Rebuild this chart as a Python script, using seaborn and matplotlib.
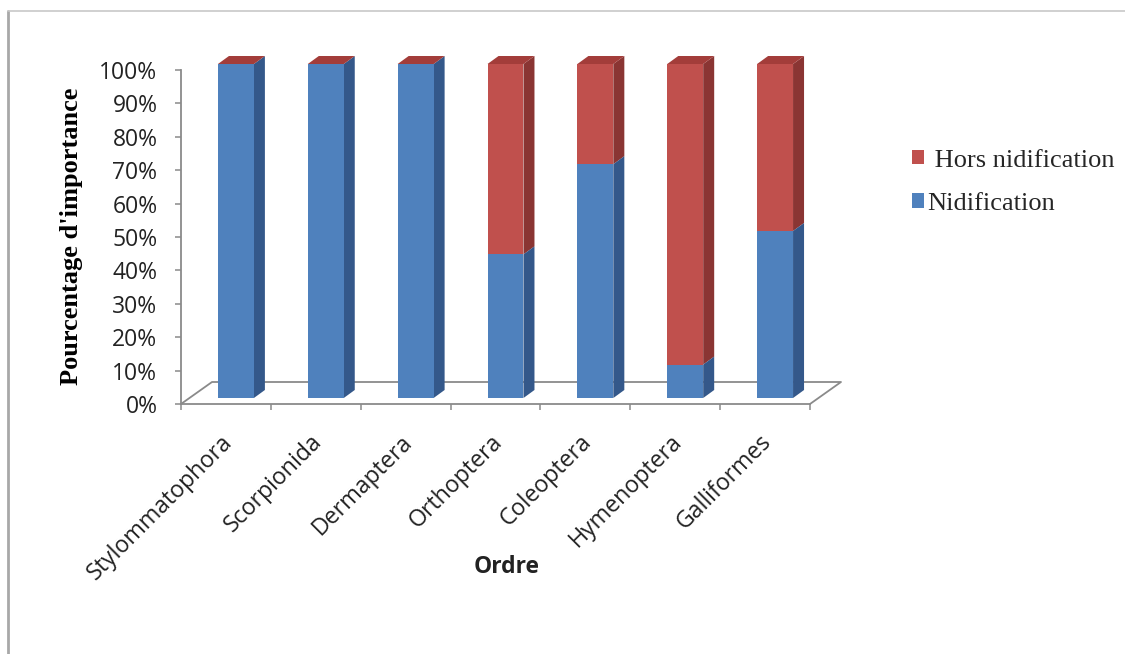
import numpy as np
import pandas as pd
import seaborn as sns
import matplotlib
matplotlib.use("Agg")
import matplotlib.pyplot as plt
from matplotlib.patches import Polygon, Rectangle
from matplotlib.lines import Line2D
import matplotlib.transforms as mtransforms

# Share of each order during nesting vs outside the nesting period (%)
ordres = ["Stylommatophora", "Scorpionida", "Dermaptera", "Orthoptera",
          "Coleoptera", "Hymenoptera", "Galliformes"]
nidification = [100, 100, 100, 43, 70, 10, 50]
hors_nidification = [0, 0, 0, 57, 30, 90, 50]
y_ticks = [0, 10, 20, 30, 40, 50, 60, 70, 80, 90, 100]
y_tick_labels = [f"{v}%" for v in y_ticks]
series_labels = [" Hors nidification", "Nidification"]

BLUE, BLUE_SIDE = "#4F81BD", "#34588A"
RED, RED_SIDE, RED_TOP = "#C0504D", "#8A3533", "#A33D3A"
AXIS_GREY = "#8A8A8A"

sns.set_theme(style="white")
plt.rcParams["font.family"] = ["Open Sans", "DejaVu Sans"]

W, H = 1125, 654
fig = plt.figure(figsize=(W / 100, H / 100), dpi=100)
ax = fig.add_axes([181 / W, 1 - 404 / H, (810 - 181) / W, (404 - 70) / H])

df = pd.DataFrame({"ordre": ordres,
                   "nid": nidification,
                   "hors": hors_nidification})
df["total"] = df["nid"] + df["hors"]

# stacked front faces: total (red) underneath, nesting share (blue) on top
sns.barplot(data=df, x="ordre", y="total", color=RED, saturation=1,
            width=0.40, ax=ax, linewidth=0)
sns.barplot(data=df, x="ordre", y="nid", color=BLUE, saturation=1,
            width=0.40, ax=ax, linewidth=0)

ax.set_xlim(-0.5, 6.5)
ax.set_ylim(0, 100)

# pixel -> data conversion for the pseudo-3D depth
ax_w_px, ax_h_px = 810 - 181, 404 - 70
px_x = 7.0 / ax_w_px
px_y = 100.0 / ax_h_px

# front faces sit a little inside the floor
shift = mtransforms.ScaledTranslation(10 / 100, 6 / 100, fig.dpi_scale_trans)
bar_tf = ax.transData + shift

n = len(ordres)
red_bars = ax.patches[:n]
blue_bars = ax.patches[n:2 * n]
ddx, ddy = 11 * px_x, 8 * px_y


def face(verts, color, z=3):
    poly = Polygon(verts, closed=True, facecolor=color, edgecolor="none",
                   transform=bar_tf, zorder=z, clip_on=False)
    ax.add_patch(poly)


for rb, bb in zip(red_bars, blue_bars):
    for p, z in ((rb, 3), (bb, 3.1)):
        p.set_transform(bar_tf)
        p.set_zorder(z)
        p.set_clip_on(False)
    top = rb.get_height()
    nid_h = bb.get_height()
    x0 = rb.get_x()
    x1 = x0 + rb.get_width()
    if top - nid_h > 0:
        face([(x1, nid_h), (x1 + ddx, nid_h + ddy),
              (x1 + ddx, top + ddy), (x1, top)], RED_SIDE)
    if nid_h > 0:
        face([(x1, 0), (x1 + ddx, ddy),
              (x1 + ddx, nid_h + ddy), (x1, nid_h)], BLUE_SIDE)
    face([(x0, top), (x0 + ddx, top + ddy),
          (x1 + ddx, top + ddy), (x1, top)], RED_TOP)

# floor outline
fdx, fdy = 31 * px_x, 22 * px_y
floor = [(-0.5, 0), (-0.5 + fdx, fdy), (6.5 + fdx, fdy), (6.5, 0)]
fx, fy = zip(*floor)
ax.add_line(Line2D(fx, fy, color=AXIS_GREY, lw=1.3, clip_on=False, zorder=2))

# axes styling
for s in ["top", "right"]:
    ax.spines[s].set_visible(False)
for s in ["left", "bottom"]:
    ax.spines[s].set_color(AXIS_GREY)
    ax.spines[s].set_linewidth(1.3)

ax.set_yticks(y_ticks)
ax.set_yticklabels(y_tick_labels, fontsize=16.5, color="#222222")
ax.tick_params(axis="y", direction="out", length=4.5, width=1.1,
               color=AXIS_GREY, pad=12.5, left=True)

ax.set_xticks(range(n))
ax.set_xticklabels(ordres, rotation=45, ha="right", va="center",
                   rotation_mode="anchor", fontsize=16.7, color="#222222")
ax.tick_params(axis="x", which="major", length=0, pad=25)
ax.set_xticks(np.arange(-0.5, n, 1.0), minor=True)
ax.tick_params(axis="x", which="minor", direction="out", length=4.5,
               width=1.1, color=AXIS_GREY, bottom=True)
nudge = mtransforms.ScaledTranslation(3 / 100, 0, fig.dpi_scale_trans)
for lab in ax.get_xticklabels():
    lab.set_transform(lab.get_transform() + nudge)

ax.set_xlabel("")
ax.set_ylabel("")
ax.grid(False)

fig.text(72 / W, 1 - 236 / H, "Pourcentage d'importance", rotation=90,
         ha="center", va="center", fontsize=19, fontweight="bold",
         family="Liberation Serif", color="black")
fig.text(507 / W, 1 - 567 / H, "Ordre", ha="center", va="center",
         fontsize=16.5, fontweight="bold", color="#222222")

handles = [Rectangle((0, 0), 1, 1, facecolor=RED, edgecolor="none"),
           Rectangle((0, 0), 1, 1, facecolor=BLUE, edgecolor="none")]
fig.legend(handles, series_labels, loc="upper left",
           bbox_to_anchor=(888 / W, 1 - 126 / H), frameon=False,
           prop={"family": "Liberation Serif", "size": 19},
           handlelength=0.45, handleheight=0.45, handletextpad=0.15,
           labelspacing=0.8)

# outer chart frame
fig.add_artist(Line2D([8 / W, 8 / W], [0, 1 - 11 / H], color="#A8A8A8",
                      lw=2, transform=fig.transFigure))
fig.add_artist(Line2D([8 / W, 1], [1 - 11 / H, 1 - 11 / H], color="#C8C8C8",
                      lw=1.2, transform=fig.transFigure))

fig.savefig("out.png", dpi=100)
